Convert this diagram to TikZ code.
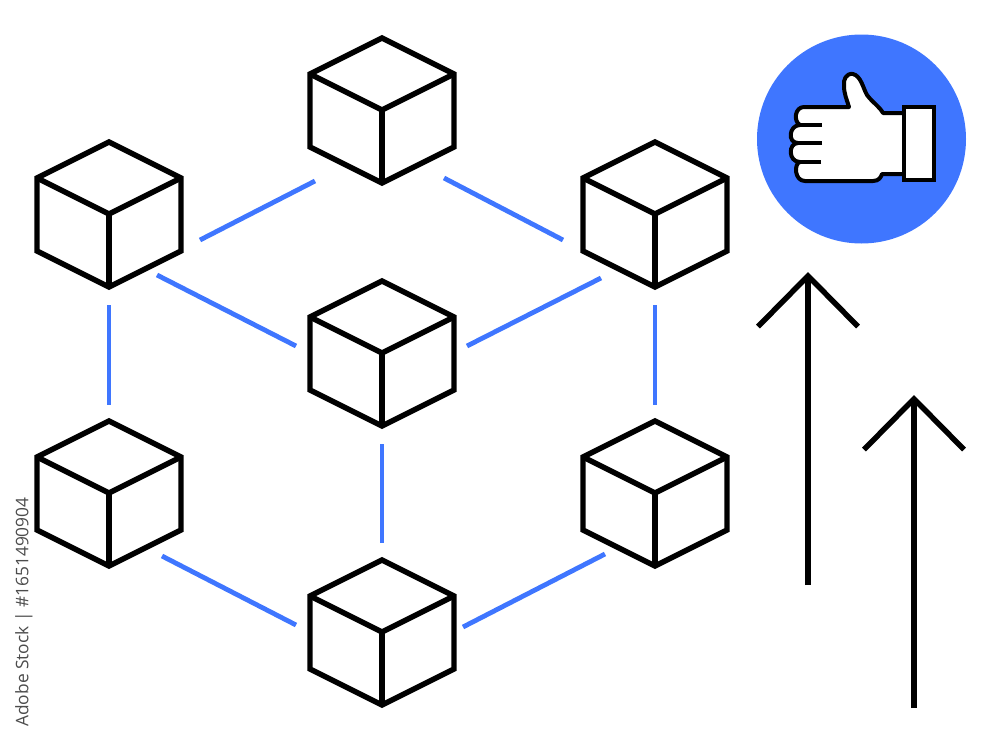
\documentclass[tikz,border=0pt]{standalone}
\usepackage{fontspec}
\setmainfont{Open Sans}
\usetikzlibrary{arrows.meta, positioning, calc}
\definecolor{linkblue}{HTML}{3F76FF}

\begin{document}
\begin{tikzpicture}[
    x=0.75pt, y=-0.75pt,
    cubebox/.style={rectangle, minimum width=108pt, minimum height=110pt, inner sep=0pt},
    edge/.style={line width=4.1pt, black, line join=miter},
    link/.style={line width=3.6pt, linkblue},
    rise/.style={line width=4.1pt, black, -{Straight Barb[length=38pt, width=75pt, line width=4.1pt]}},
    badge/.style={circle, fill=linkblue, minimum size=156.75pt, inner sep=0pt},
    handline/.style={line width=3pt, black},
    stamp/.style={rotate=90, text=black!70, font=\fontsize{13pt}{15pt}\selectfont},
]
\useasboundingbox (0,0) rectangle (1000,743);

% Cubes
\foreach \name/\px/\py in {top/382/110, left/109/214, right/655/214, middle/382/353,
                           lowleft/109/493, lowright/655/493, bottom/382/632} {
  \node[cubebox] (\name) at (\px,\py) {};
  \draw[edge] ([shift={(0,-72)}]\name.center) -- ([shift={(72,-36)}]\name.center)
    -- ([shift={(72,37)}]\name.center) -- ([shift={(0,73)}]\name.center)
    -- ([shift={(-72,37)}]\name.center) -- ([shift={(-72,-36)}]\name.center) -- cycle;
  \draw[edge] ([shift={(-72,-36)}]\name.center) -- (\name.center) -- ([shift={(72,-36)}]\name.center);
  \draw[edge] (\name.center) -- ([shift={(0,73)}]\name.center);
}

% Links
\draw[link] ([shift={(-67,71)}]top.center)   -- ([shift={(91,26)}]left.center);
\draw[link] ([shift={(62,68)}]top.center)    -- ([shift={(-92,26)}]right.center);
\draw[link] ([shift={(48,61)}]left.center)   -- ([shift={(-86,-7)}]middle.center);
\draw[link] ([shift={(-54,64)}]right.center) -- ([shift={(85,-7)}]middle.center);
\draw[link] ([shift={(0,91)}]left.center)    -- ([shift={(0,-88)}]lowleft.center);
\draw[link] ([shift={(0,91)}]right.center)   -- ([shift={(0,-88)}]lowright.center);
\draw[link] ([shift={(0,91)}]middle.center)  -- ([shift={(0,-89)}]bottom.center);
\draw[link] ([shift={(53,63)}]lowleft.center) -- ([shift={(-86,-7)}]bottom.center);
\draw[link] ([shift={(-50,61)}]lowright.center) -- ([shift={(81,-5)}]bottom.center);

% Arrows
\coordinate (risea) at (808,585);
\coordinate (riseatip) at (808,272);
\coordinate (riseb) at (914,708);
\coordinate (risebtip) at (914,395);
\draw[rise] (risea) -- (riseatip);
\draw[rise] (riseb) -- (risebtip);

% Thumb badge
\node[badge] (badge) at (861.5,139) {};
\draw[handline, fill=white, line join=round]
  (904,113) -- (883,113) .. controls (879,106) and (873,103) .. (867,95)
  .. controls (863,88) and (861,76) .. (853,74)
  .. controls (846,73) and (843,80) .. (844,86)
  .. controls (844,94) and (847,100) .. (849,107)
  -- (804,107) .. controls (795,107) and (793,121) .. (800,125)
  .. controls (789,125) and (787,143) .. (798,143)
  .. controls (788,143) and (788,162) .. (800,162)
  .. controls (794,163) and (794,181) .. (805,181)
  -- (873,181) .. controls (879,181) and (881,177) .. (882,174)
  -- (904,174);
\draw[handline, fill=white] (904,107) rectangle (934,180);
\draw[handline] (822,125) -- (800,125);
\draw[handline] (822,143) -- (798,143);
\draw[handline] (821,162) -- (800,162);

% Stock line
\node[stamp] (stockline) at (24,612) {Adobe Stock | \#1651490904};

\end{tikzpicture}
\end{document}
